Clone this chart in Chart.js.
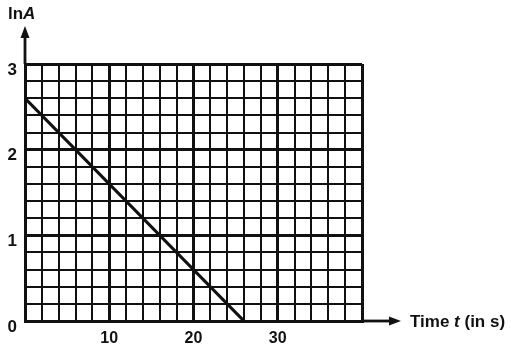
<!DOCTYPE html>
<html>
<head>
<meta charset="utf-8">
<script src="https://cdn.jsdelivr.net/npm/chart.js@4/dist/chart.umd.min.js"></script>
<style>
    html, body { margin: 0; padding: 0; background: #fff; }
    canvas { display: block; }
</style>
</head>
<body>
<canvas id="chart" width="511" height="350"></canvas>
<script>
// Values: ln A against time t (s)
const timeValues = [0, 26];
const lnAValues = [2.6, 0];

// Axis ranges, grid steps and labelled ticks
const xRange = [0, 40];
const yRange = [0, 3];
const xStep = 2;
const yStep = 0.2;
const xTickLabels = [10, 20, 30];
const yTickLabels = [0, 1, 2, 3];

const INK = '#111';
const FONT = '"Liberation Sans", Arial, sans-serif';

// Check if a tick value is one of the labelled ones (floats from stepSize are fuzzy)
function isIn(list, v) {
    return list.some(t => Math.abs(t - v) < 1e-6);
}

// Thick grid line every 10 s and every whole unit of ln A
function gridWidth(ctx, major) {
    const v = ctx.tick ? ctx.tick.value : 0;
    return Math.abs(v / major - Math.round(v / major)) < 1e-6 ? 3 : 2;
}

// Arrows on the axes and the two axis titles
const axisExtras = {
    id: 'axisExtras',
    afterDraw(chart) {
        const { ctx, chartArea } = chart;
        const { left, right, top, bottom } = chartArea;
        ctx.save();
        ctx.strokeStyle = INK;
        ctx.fillStyle = INK;
        ctx.lineWidth = 2.8;

        // y axis arrow
        ctx.beginPath();
        ctx.moveTo(left, top);
        ctx.lineTo(left, 36);
        ctx.stroke();
        ctx.beginPath();
        ctx.moveTo(left, 26);
        ctx.lineTo(left - 4.5, 38);
        ctx.lineTo(left + 4.5, 38);
        ctx.closePath();
        ctx.fill();

        // x axis arrow
        ctx.beginPath();
        ctx.moveTo(right, bottom);
        ctx.lineTo(392, bottom);
        ctx.stroke();
        ctx.beginPath();
        ctx.moveTo(401, bottom);
        ctx.lineTo(389, bottom - 4.5);
        ctx.lineTo(389, bottom + 4.5);
        ctx.closePath();
        ctx.fill();

        // axis titles, with the symbols in italic
        ctx.textBaseline = 'middle';
        ctx.textAlign = 'left';
        let x = 8;
        ctx.font = 'bold 17px ' + FONT;
        ctx.fillText('ln', x, 14);
        x += ctx.measureText('ln').width;
        ctx.font = 'italic bold 17px ' + FONT;
        ctx.fillText('A', x, 14);

        x = 410;
        const y = bottom + 1;
        ctx.font = 'bold 17px ' + FONT;
        ctx.fillText('Time ', x, y);
        x += ctx.measureText('Time ').width;
        ctx.font = 'italic bold 17px ' + FONT;
        ctx.fillText('t', x, y);
        x += ctx.measureText('t').width;
        ctx.font = 'bold 17px ' + FONT;
        ctx.fillText(' (in s)', x, y);
        ctx.restore();
    }
};

new Chart(document.getElementById('chart'), {
    type: 'scatter',
    data: {
        datasets: [{
            data: timeValues.map((t, i) => ({ x: t, y: lnAValues[i] })),
            showLine: true,
            borderColor: INK,
            borderWidth: 3.2,
            pointRadius: 0,
            fill: false
        }]
    },
    options: {
        responsive: false,
        animation: false,
        layout: { padding: { left: 0, top: 64, right: 149, bottom: 0 } },
        plugins: {
            legend: { display: false },
            tooltip: { enabled: false }
        },
        scales: {
            x: {
                type: 'linear',
                min: xRange[0],
                max: xRange[1],
                afterFit: (scale) => { scale.height = 29; },
                grid: {
                    color: INK,
                    lineWidth: (ctx) => gridWidth(ctx, 10),
                    drawTicks: false
                },
                border: { display: true, color: INK, width: 3 },
                ticks: {
                    stepSize: xStep,
                    autoSkip: false,
                    maxRotation: 0,
                    padding: 8,
                    color: INK,
                    font: { family: FONT, size: 16, weight: 'bold' },
                    callback: (v) => isIn(xTickLabels, v) ? String(Math.round(v)) : ''
                }
            },
            y: {
                type: 'linear',
                min: yRange[0],
                max: yRange[1],
                afterFit: (scale) => { scale.width = 25; },
                grid: {
                    color: INK,
                    lineWidth: (ctx) => gridWidth(ctx, 1),
                    drawTicks: false
                },
                border: { display: true, color: INK, width: 3 },
                ticks: {
                    stepSize: yStep,
                    autoSkip: false,
                    padding: 8,
                    labelOffset: 6,
                    color: INK,
                    font: { family: FONT, size: 17, weight: 'bold' },
                    callback: (v) => isIn(yTickLabels, v) ? String(Math.round(v)) : ''
                }
            }
        }
    },
    plugins: [axisExtras]
});
</script>
</body>
</html>
